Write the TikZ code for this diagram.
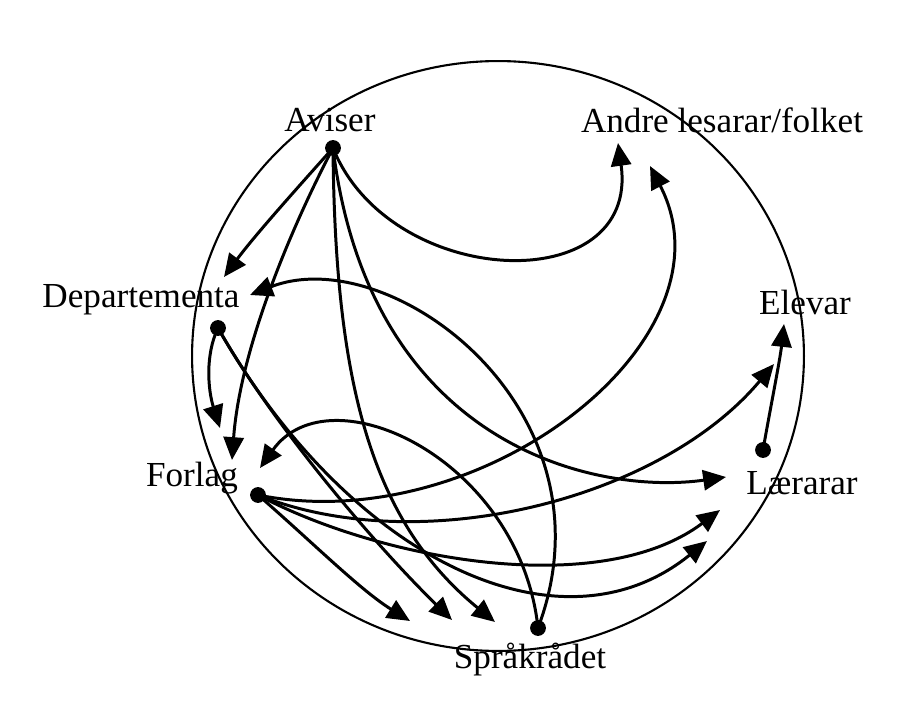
\documentclass[tikz,border=0pt]{standalone}
\usepackage{fontspec}
\setmainfont{Liberation Serif}
\usetikzlibrary{arrows.meta}

\begin{document}
\begin{tikzpicture}[x=0.02cm,y=-0.02cm,
        flow/.style={line width=1.7pt, -{Triangle[length=13pt,width=11.5pt]}},
        actor/.style={font=\fontsize{20}{24}\selectfont, inner sep=0pt}]
        \useasboundingbox (0,0) rectangle (906,702);
        % Draw frame
        \draw [line width=1.2pt] (498,356) ellipse [x radius=6.12cm, y radius=5.9cm];
        % Draw labels
        \node[actor] (aviser) at (330,120) {Aviser};
        \node[actor] (andre) at (722,120) {Andre lesarar/folket};
        \node[actor] (dep) at (141,300) {Departementa};
        \node[actor] (elevar) at (805,302) {Elevar};
        \node[actor] (forlag) at (192,478) {Forlag};
        \node[actor] (laerar) at (802,483) {Lærarar};
        \node[actor] (sprak) at (530,660) {Språkrådet};
        % Draw dots
        \foreach \name/\x/\y in {aviser/333/148, dep/218/328, forlag/258/495, laerar/763/450, sprak/538/628} {
            \coordinate (\name-dot) at (\x,\y);
            \fill (\name-dot) circle (4.5pt);
        }
        % Arrow ends
        \foreach \name/\x/\y in {dep-a/224/277, dep-b/250/295, forlag-a/220/428, forlag-b/232/460,
                forlag-c/260/468, andre-a/618/143, andre-b/650/166, elevar-a/784/324, elevar-b/774/364,
                laerar-a/726/477, laerar-b/720/510, laerar-c/707/541, sprak-a/410/621, sprak-b/452/620,
                sprak-c/495/622} {
            \coordinate (\name) at (\x,\y);
        }
        % From Aviser
        \draw [flow] (aviser-dot) .. controls (300,185) and (255,235) .. (dep-a);
        \draw [flow] (aviser-dot) .. controls (290,230) and (240,350) .. (forlag-b);
        \draw [flow] (aviser-dot) .. controls (390,290) and (640,300) .. (andre-a);
        \draw [flow] (aviser-dot) .. controls (370,450) and (600,495) .. (laerar-a);
        \draw [flow] (aviser-dot) .. controls (335,380) and (370,520) .. (sprak-c);
        % From Departementa
        \draw [flow] (dep-dot) .. controls (205,355) and (208,390) .. (forlag-a);
        \draw [flow] (dep-dot) .. controls (270,420) and (370,540) .. (sprak-b);
        \draw [flow] (dep-dot) .. controls (350,560) and (560,660) .. (laerar-c);
        % From Forlag
        \draw [flow] (forlag-dot) .. controls (310,540) and (360,590) .. (sprak-a);
        \draw [flow] (forlag-dot) .. controls (380,560) and (600,600) .. (laerar-b);
        \draw [flow] (forlag-dot) .. controls (420,560) and (660,500) .. (elevar-b);
        \draw [flow] (forlag-dot) .. controls (480,540) and (740,340) .. (andre-b);
        % From Spraakraadet
        \draw [flow] (sprak-dot) .. controls (520,460) and (330,370) .. (forlag-c);
        \draw [flow] (sprak-dot) .. controls (620,410) and (390,240) .. (dep-b);
        % From Laerarar
        \draw [flow] (laerar-dot) .. controls (770,410) and (780,360) .. (elevar-a);
\end{tikzpicture}
\end{document}
